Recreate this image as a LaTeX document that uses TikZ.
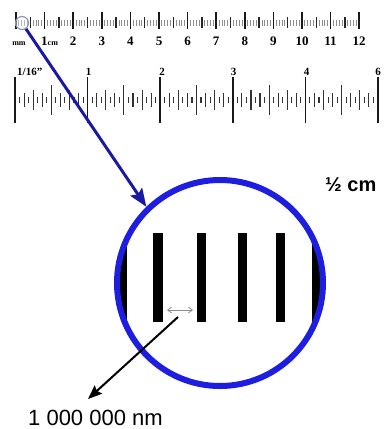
\documentclass[tikz,border=0pt]{standalone}
\usepackage{fontspec}
\setmainfont{Liberation Serif}
\newfontfamily\arialf{Liberation Sans}
\usetikzlibrary{arrows.meta}
\definecolor{bigblue}{RGB}{30,30,225}
\definecolor{lineblue}{RGB}{25,25,165}
\definecolor{magc}{RGB}{140,150,195}
\tikzset{
  majortick/.style={draw=black!90, line width=1.6pt},
  midtick/.style={draw=black!85, line width=1.3pt},
  mmtick/.style={draw=black!45, line width=0.8pt},
  intick/.style={draw=black!80, line width=1.1pt},
  rlab/.style={inner sep=0pt, anchor=base, font=\fontsize{13}{13}\selectfont\bfseries},
  ilab/.style={inner sep=0pt, anchor=base, font=\fontsize{11}{11}\selectfont\bfseries},
  bar/.style={fill=black, draw=none},
  bluearrow/.style={draw=lineblue, line width=3pt, -{Stealth[length=18pt,width=14pt,inset=3pt]}},
  blackarrow/.style={draw=black, line width=2pt, -{Stealth[length=14pt,width=11pt,inset=2pt]}},
}
\begin{document}
\begin{tikzpicture}[x=1pt,y=-1pt]
\useasboundingbox (0,0) rectangle (384,429);
% ---------- top metric ruler ----------
\foreach \i in {0,...,120} {
  \draw[mmtick] ({16+2.86*\i},20) -- ({16+2.86*\i},26);
}
\foreach \i in {0,...,11} {
  \draw[midtick] ({16+28.6*\i+14.3},17) -- ({16+28.6*\i+14.3},28);
}
\foreach \i in {0,...,12} {
  \draw[majortick] ({16+28.6*\i},12) -- ({16+28.6*\i},29);
}
\node[rlab, font=\fontsize{8}{8}\selectfont\bfseries] (lmm) at (19,45) {mm};
\node[inner sep=0pt, anchor=base west] (l1) at (41,45) {\fontsize{13}{13}\selectfont\bfseries 1\fontsize{8}{8}\selectfont cm};
\foreach \i in {2,...,12} {
  \node[rlab] (lt\i) at ({16+28.6*\i},45) {\i};
}
% ---------- bottom inch ruler ----------
\foreach \k in {0,...,80} {
  \pgfmathtruncatemacro{\ma}{mod(\k,16)}
  \pgfmathtruncatemacro{\mb}{mod(\k,8)}
  \pgfmathtruncatemacro{\mc}{mod(\k,4)}
  \pgfmathtruncatemacro{\md}{mod(\k,2)}
  \pgfmathsetmacro{\xx}{15+72.6*\k/16}
  \ifnum\ma=0
    \draw[majortick] (\xx,77) -- (\xx,123);
  \else\ifnum\mb=0
    \draw[intick] (\xx,85) -- (\xx,115);
  \else\ifnum\mc=0
    \draw[intick] (\xx,90) -- (\xx,110);
  \else\ifnum\md=0
    \draw[intick] (\xx,93) -- (\xx,107);
  \else
    \draw[intick] (\xx,97) -- (\xx,103);
  \fi\fi\fi\fi
}
\node[ilab, anchor=base west] (l16) at (17,75) {1/16''};
\node[ilab] (li1) at (88.5,75) {1};
\node[ilab] (li2) at (162,75) {2};
\node[ilab] (li3) at (233.5,75) {3};
\node[ilab] (li4) at (306.5,75) {4};
\node[ilab] (li6) at (378,75) {6};
% ---------- magnified view ----------
\begin{scope}
  \clip (220,283) circle (101);
  \fill[bar] (116,233) rectangle (127,322);
  \fill[bar] (153,233) rectangle (163,322);
  \fill[bar] (197,233) rectangle (206,322);
  \fill[bar] (238,233) rectangle (247,322);
  \fill[bar] (276,233) rectangle (285,322);
  \fill[bar] (312,233) rectangle (323,322);
\end{scope}
\node[circle, draw=bigblue, line width=6pt, minimum size=206pt, inner sep=0pt] (bigc) at (220,283) {};
\coordinate (dl) at (167,310);
\coordinate (dr) at (193,310);
\draw[draw=black!45, line width=0.8pt, {Straight Barb[length=4pt,width=6pt]}-{Straight Barb[length=4pt,width=6pt]}] (dl) -- (dr);
% ---------- magnifier and arrows ----------
\node[circle, draw=magc, line width=1.2pt, fill=white, fill opacity=0.35, minimum size=13pt, inner sep=0pt] (mag) at (22,23) {};
\draw[bluearrow] (mag.-56) -- (bigc.134);
\node[inner sep=0pt, anchor=base west, font=\arialf\fontsize{13}{13}\selectfont] (half) at (325,191) {\fontsize{20}{20}\selectfont\bfseries ½ cm};
\node[inner sep=0pt, anchor=base west, font=\arialf\fontsize{22}{22}\selectfont] (nm) at (28,425) {1 000 000 nm};
\coordinate (dmid) at (178,317);
\coordinate (nmtip) at (88,399);
\draw[blackarrow] (dmid) -- (nmtip);
\end{tikzpicture}
\end{document}
